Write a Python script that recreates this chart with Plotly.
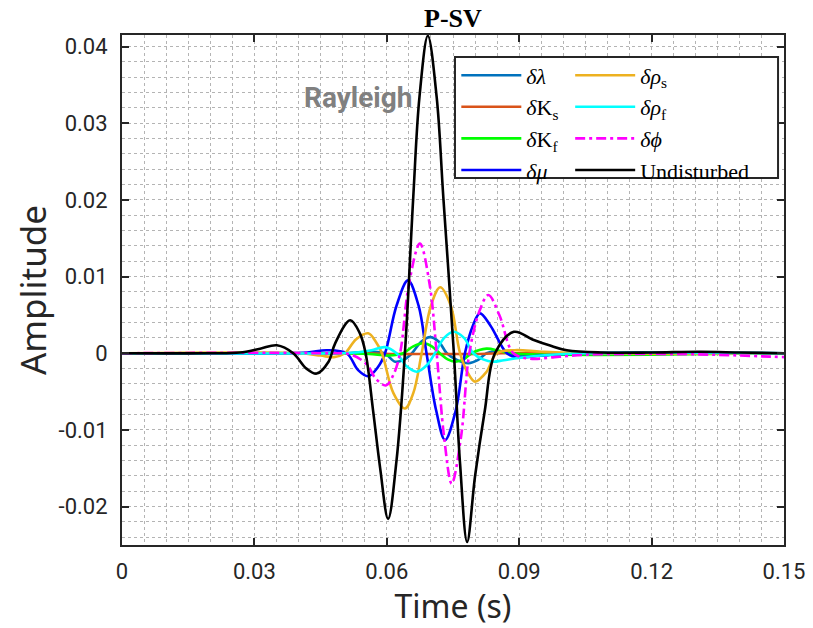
import plotly.graph_objects as go

# ---------------- data ----------------
t_lambda = [0, 0.05, 0.0565, 0.0595, 0.0619, 0.064, 0.0657, 0.0678, 0.0698, 0.0718, 0.0736, 0.076, 0.0785, 0.0806, 0.0826, 0.0855, 0.09, 0.095, 0.1, 0.15]
v_lambda = [0, 0, 0.0002, 0, -0.0011, -0.0008, 0, 0.0015, 0.0021, 0.0015, 0, -0.0009, -0.0013, -0.0009, 0, 0.0003, -0.0002, -0.0003, 0, 0]

t_Ks = [0, 0.055, 0.062, 0.068, 0.074, 0.08, 0.086, 0.15]
v_Ks = [0, 0, -0.0001, -0.0001, -0.0001, -0.0001, 0, 0]

t_Kf = [0, 0.05, 0.056, 0.0605, 0.0637, 0.066, 0.0683, 0.0702, 0.072, 0.0738, 0.0755, 0.0774, 0.0792, 0.0826, 0.0855, 0.088, 0.15]
v_Kf = [0, 0, -0.0001, -0.0003, 0, 0.0009, 0.0013, 0.0009, 0, -0.0008, -0.0011, -0.0008, 0, 0.0006, 0.0003, 0, 0]

t_mu = [0, 0.035, 0.042, 0.0464, 0.0509, 0.0535, 0.0558, 0.058, 0.0596, 0.0622, 0.0648, 0.0672, 0.069, 0.0712, 0.0732, 0.0756, 0.0777, 0.0795, 0.0811, 0.0835, 0.0872, 0.0895, 0.095, 0.1, 0.11, 0.15]
v_mu = [0, 0, 0.0001, 0.0004, 0, -0.0022, -0.003, -0.0018, 0, 0.0062, 0.0095, 0.0062, 0, -0.0075, -0.0113, -0.0075, 0, 0.0036, 0.0052, 0.0036, 0, -0.0005, -0.0003, -0.0001, 0, 0]

t_rhos = [0, 0.04, 0.045, 0.048, 0.0505, 0.053, 0.0558, 0.0575, 0.0589, 0.0615, 0.0641, 0.066, 0.0679, 0.07, 0.0721, 0.0745, 0.0766, 0.0785, 0.08, 0.0825, 0.0849, 0.089, 0.095, 0.105, 0.15]
v_rhos = [0, 0, -0.0003, -0.0005, 0, 0.0018, 0.0026, 0.0015, 0, -0.0052, -0.0072, -0.0052, 0, 0.0062, 0.0086, 0.0062, 0, -0.0027, -0.0037, -0.0025, 0, 0.0004, 0.0002, 0, 0]

t_rhof = [0, 0.048, 0.053, 0.0565, 0.0596, 0.0622, 0.0645, 0.0668, 0.069, 0.0709, 0.073, 0.0751, 0.0775, 0.0796, 0.0818, 0.0841, 0.0865, 0.09, 0.095, 0.105, 0.15]
v_rhof = [0, 0, 0.0001, 0.0004, 0.0008, 0, -0.0017, -0.0024, -0.0016, 0, 0.002, 0.0028, 0.002, 0, -0.0008, -0.0011, -0.0009, -0.0006, -0.0003, 0, 0]

t_phi = [0, 0.045, 0.052, 0.0555, 0.0575, 0.0598, 0.0615, 0.063, 0.065, 0.0675, 0.0697, 0.0713, 0.073, 0.0747, 0.0768, 0.0787, 0.081, 0.083, 0.0855, 0.0887, 0.0925, 0.098, 0.105, 0.12, 0.135, 0.145, 0.15]
v_phi = [0, 0, -0.0002, -0.0015, -0.0033, -0.0042, -0.0028, 0, 0.009, 0.0143, 0.009, 0, -0.011, -0.017, -0.011, 0, 0.0055, 0.0076, 0.005, 0, -0.0007, -0.0005, -0.0002, -0.0001, -0.0002, -0.0004, -0.0005]

t_und = [0, 0.02, 0.0267, 0.0313, 0.0351, 0.0388, 0.0418, 0.0441, 0.0468, 0.0483, 0.0517, 0.0539, 0.0552, 0.0569, 0.0585, 0.0603, 0.0622, 0.0641, 0.066, 0.0674, 0.0693, 0.0713, 0.0728, 0.0752, 0.0766, 0.0782, 0.08, 0.0822, 0.0845, 0.0888, 0.093, 0.097, 0.1008, 0.1084, 0.12, 0.131, 0.14, 0.15]
v_und = [0, 0, 0.0001, 0.0006, 0.00104, 0.0, -0.002, -0.00265, -0.0011, 0.0013, 0.0043, 0.0026, 0.0, -0.0075, -0.015, -0.0216, -0.014, 0.0, 0.0204, 0.0334, 0.0414, 0.0334, 0.0204, 0.0, -0.0144, -0.0246, -0.016, -0.0075, 0.0, 0.0028, 0.0018, 0.001, 0.0004, 0.0001, 0.0001, 0.0002, 0.0001, 0]

x_tickvals = [0, 0.03, 0.06, 0.09, 0.12, 0.15]
x_ticktext = ["0", "0.03", "0.06", "0.09", "0.12", "0.15"]
y_tickvals = [-0.02, -0.01, 0, 0.01, 0.02, 0.03, 0.04]
y_ticktext = ["-0.02", "-0.01", "0", "0.01", "0.02", "0.03", "0.04"]

# --------------------------------------------------------------
series = [
    ("<i>δλ</i>", t_lambda, v_lambda, "#0072BD", "solid", "legend"),
    ("<i>δ</i>K<sub>s</sub>", t_Ks, v_Ks, "#D95319", "solid", "legend"),
    ("<i>δ</i>K<sub>f</sub>", t_Kf, v_Kf, "#00FF00", "solid", "legend"),
    ("<i>δμ</i>", t_mu, v_mu, "#0000FF", "solid", "legend"),
    ("<i>δρ</i><sub>s</sub>", t_rhos, v_rhos, "#EDB120", "solid", "legend2"),
    ("<i>δρ</i><sub>f</sub>", t_rhof, v_rhof, "#00FFFF", "solid", "legend2"),
    ("<i>δϕ</i>", t_phi, v_phi, "#FF00FF", "10px,4px,3px,4px", "legend2"),
    ("Undisturbed", t_und, v_und, "#000000", "solid", "legend2"),
]

fig = go.Figure()
for name, t, v, col, dash, lg in series:
    fig.add_trace(go.Scatter(
        x=t, y=v, mode="lines", name=name, legend=lg,
        line=dict(color=col, width=2.6, dash=dash, shape="spline", smoothing=1.0),
    ))

axis_col = "#262626"
grid_col = "#b4b4b4"
tick_font = dict(family="Roboto", size=22, color=axis_col)
leg_font = dict(family="Liberation Serif", size=22, color="#000000")

fig.update_layout(
    width=813, height=628,
    margin=dict(l=122, r=29, t=35, b=83),
    paper_bgcolor="white", plot_bgcolor="white",
    showlegend=True,
    xaxis=dict(
        range=[0, 0.15], tickmode="array", tickvals=x_tickvals, ticktext=x_ticktext,
        ticks="inside", ticklen=7, tickwidth=1.5, tickcolor=axis_col,
        showline=True, linecolor=axis_col, linewidth=2, mirror="ticks",
        showgrid=True, gridcolor=grid_col, griddash="dot", gridwidth=1,
        minor=dict(tick0=0, dtick=0.005, showgrid=True, gridcolor=grid_col, griddash="dot", gridwidth=1),
        zeroline=False, tickfont=tick_font, ticklabelstandoff=6,
        title=dict(text="Time (s)", font=dict(family="Noto Sans", size=32, color=axis_col), standoff=6),
        automargin=False,
    ),
    yaxis=dict(
        range=[-0.025, 0.0415], tickmode="array", tickvals=y_tickvals, ticktext=y_ticktext,
        ticks="inside", ticklen=7, tickwidth=1.5, tickcolor=axis_col,
        showline=True, linecolor=axis_col, linewidth=2, mirror="ticks",
        showgrid=True, gridcolor=grid_col, griddash="dot", gridwidth=1,
        minor=dict(tick0=0, dtick=0.002, showgrid=True, gridcolor=grid_col, griddash="dot", gridwidth=1),
        zeroline=False, tickfont=tick_font, ticklabelstandoff=8,
        title=dict(text="Amplitude", font=dict(family="Noto Sans", size=35, color=axis_col), standoff=1),
        automargin=False,
    ),
    legend=dict(x=0.505, y=0.962, xanchor="left", yanchor="top", orientation="v",
                bgcolor="rgba(0,0,0,0)", borderwidth=0, font=leg_font, itemwidth=60,
                tracegroupgap=0),
    legend2=dict(x=0.677, y=0.962, xanchor="left", yanchor="top", orientation="v",
                 bgcolor="rgba(0,0,0,0)", borderwidth=0, font=leg_font, itemwidth=60,
                 tracegroupgap=0),
    shapes=[dict(type="rect", xref="paper", yref="paper", x0=0.503, x1=0.991, y0=0.7196, y1=0.957,
                 line=dict(color=axis_col, width=2), fillcolor="white", layer="above")],
    annotations=[
        dict(text="<b>P-SV</b>", xref="paper", yref="paper", x=0.5, y=1.0, xanchor="center",
             yanchor="bottom", showarrow=False, yshift=0,
             font=dict(family="Liberation Serif", size=26, color="#000000")),
        dict(text="<b>Rayleigh</b>", xref="paper", yref="paper", x=0.356, y=0.878, xanchor="center",
             yanchor="middle", showarrow=False,
             font=dict(family="Roboto", size=28, color="#808080")),
    ],
)

fig.write_html("out.html", config={"displayModeBar": False},
               post_script="document.body.style.margin='0';")
